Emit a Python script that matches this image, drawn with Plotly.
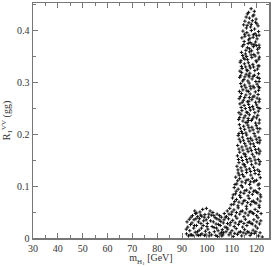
import plotly.graph_objects as go

# Low-mass plateau (m_H1 ~ 91-108 GeV)
low_mass = [91.8, 92.3, 92.0, 93.1, 92.9, 93.4, 91.7,
            93.8, 94.2, 94.7, 95.1, 94.0, 95.3, 94.8, 95.4, 94.4,
            95.8, 96.3, 96.0, 96.9, 97.2, 96.6, 97.4, 95.9, 97.0,
            97.8, 98.3, 98.0, 98.7, 99.2, 99.0, 98.5, 99.4, 97.9,
            99.8, 100.2, 100.6, 101.0, 100.4, 101.3, 99.7, 100.9,
            101.8, 102.1, 102.6, 103.0, 102.4, 103.3, 101.9, 102.9,
            103.7, 104.1, 104.5, 104.9, 105.3, 104.3, 105.1, 103.9, 105.4,
            105.8, 106.2, 106.6, 107.0, 106.4, 107.3, 105.9, 106.9,
            107.7, 108.2, 107.9, 108.3, 96.7, 99.6, 93.3,
            92.6, 93.6, 95.0, 96.2, 97.6, 98.9, 100.0, 101.5, 102.8, 103.6,
            104.7, 105.6, 106.0, 107.4, 108.0, 100.8, 97.5, 95.6, 104.0, 106.7]
low_ratio = [0.008, 0.021, 0.031, 0.014, 0.036, 0.026, 0.017,
             0.006, 0.043, 0.019, 0.052, 0.029, 0.011, 0.035, 0.047, 0.005,
             0.024, 0.041, 0.006, 0.015, 0.050, 0.031, 0.006, 0.048, 0.037,
             0.019, 0.055, 0.008, 0.033, 0.045, 0.005, 0.024, 0.013, 0.042,
             0.057, 0.028, 0.040, 0.010, 0.017, 0.052, 0.035, 0.004,
             0.044, 0.022, 0.031, 0.012, 0.049, 0.039, 0.006, 0.020,
             0.027, 0.046, 0.014, 0.035, 0.008, 0.003, 0.043, 0.019, 0.024,
             0.040, 0.016, 0.029, 0.047, 0.006, 0.021, 0.011, 0.035,
             0.012, 0.052, 0.041, 0.028, 0.005, 0.006, 0.006,
             0.004, 0.040, 0.024, 0.012, 0.028, 0.040, 0.022, 0.033, 0.043, 0.005,
             0.026, 0.032, 0.004, 0.040, 0.020, 0.046, 0.044, 0.037, 0.037, 0.010]

# Steep column (m_H1 ~ 108-122 GeV)
col_mass = [117.8, 119.1, 116.3, 118.5, 117.1, 119.8, 115.8,
            115.3, 116.9, 118.3, 120.1, 117.6, 115.9, 119.2, 120.6, 114.8,
            114.5, 116.1, 117.9, 119.4, 120.8, 115.3, 118.6, 120.2, 116.8, 114.1, 121.0,
            115.0, 117.4, 119.6, 121.0, 114.3, 116.3, 118.7, 120.4, 115.7, 118.0, 119.0,
            113.9, 115.5, 117.2, 118.9, 120.6, 114.8, 116.4, 118.1, 119.8, 121.1, 113.7,
            113.4, 115.1, 116.7, 118.5, 120.0, 121.0, 114.2, 116.0, 117.5, 119.3, 120.4, 113.3,
            114.0, 115.8, 117.3, 119.1, 120.8, 113.2, 114.9, 116.5, 118.2, 119.7, 121.1, 117.0,
            113.6, 115.2, 117.0, 118.6, 120.2, 121.2, 114.5, 116.1, 117.7, 119.5, 113.1, 120.8,
            113.9, 115.7, 117.4, 119.0, 120.6, 113.0, 114.7, 116.3, 118.1, 119.6, 121.2, 117.1,
            113.3, 115.0, 116.8, 118.4, 120.0, 121.3, 114.1, 115.9, 117.5, 119.3, 120.7, 112.9,
            113.7, 115.4, 117.1, 118.9, 120.5, 112.8, 114.5, 116.2, 117.9, 119.6, 121.2, 116.6,
            113.1, 114.8, 116.5, 118.1, 119.9, 121.3, 113.9, 115.7, 117.3, 119.0, 120.6, 112.9,
            112.6, 114.3, 116.0, 117.6, 119.4, 121.0, 113.5, 115.2, 116.9, 118.7, 120.3, 121.4,
            112.4, 114.1, 115.7, 117.4, 119.1, 120.8, 113.2, 114.9, 116.6, 118.3, 120.0, 121.4,
            112.3, 113.9, 115.6, 117.3, 119.0, 120.7, 112.9, 114.6, 116.3, 118.0, 119.7, 121.4,
            112.1, 113.7, 115.4, 117.1, 118.8, 120.5, 112.6, 114.3, 116.0, 117.7, 119.4, 121.2,
            111.6, 113.2, 114.9, 116.6, 118.3, 120.0, 121.5, 112.0, 113.8, 115.5, 117.2, 118.9, 120.6,
            111.0, 112.6, 114.3, 116.0, 117.7, 119.4, 121.1, 111.5, 113.2, 114.9, 116.6, 118.3, 120.0, 121.5,
            110.3, 111.9, 113.6, 115.3, 117.0, 118.7, 120.4, 121.7, 110.8, 112.5, 114.2, 115.9, 117.6, 119.3, 121.0,
            109.2, 110.9, 112.6, 114.3, 116.0, 117.7, 119.4, 121.1, 109.8, 111.5, 113.2, 114.9, 116.6, 118.3, 120.0, 121.8,
            108.7, 110.4, 112.1, 113.8, 115.5, 117.2, 118.9, 120.6, 109.3, 111.0, 112.7, 114.4, 116.1, 117.8, 119.5, 121.2,
            108.4, 110.1, 111.8, 113.5, 115.2, 116.9, 118.6, 120.3, 108.9, 110.6, 112.3, 114.0, 115.7, 117.4, 119.1, 120.8, 122.3]
col_ratio = [0.441, 0.436, 0.431, 0.427, 0.423, 0.421, 0.425,
             0.417, 0.414, 0.418, 0.412, 0.406, 0.404, 0.402, 0.408, 0.410,
             0.398, 0.395, 0.399, 0.393, 0.397, 0.388, 0.386, 0.383, 0.381, 0.385, 0.390,
             0.378, 0.376, 0.377, 0.371, 0.369, 0.366, 0.368, 0.363, 0.361, 0.360, 0.372,
             0.357, 0.354, 0.358, 0.353, 0.356, 0.346, 0.343, 0.347, 0.341, 0.348, 0.341,
             0.338, 0.335, 0.337, 0.334, 0.339, 0.331, 0.326, 0.323, 0.327, 0.322, 0.325, 0.321,
             0.318, 0.315, 0.317, 0.313, 0.316, 0.309, 0.305, 0.302, 0.306, 0.301, 0.307, 0.310,
             0.297, 0.294, 0.298, 0.292, 0.296, 0.289, 0.285, 0.283, 0.287, 0.281, 0.282, 0.284,
             0.278, 0.275, 0.277, 0.273, 0.276, 0.268, 0.265, 0.262, 0.266, 0.261, 0.267, 0.270,
             0.258, 0.255, 0.257, 0.253, 0.256, 0.249, 0.245, 0.242, 0.246, 0.241, 0.244, 0.241,
             0.238, 0.235, 0.237, 0.233, 0.236, 0.228, 0.225, 0.222, 0.226, 0.221, 0.227, 0.230,
             0.218, 0.215, 0.217, 0.213, 0.216, 0.210, 0.205, 0.202, 0.206, 0.201, 0.204, 0.201,
             0.197, 0.194, 0.198, 0.192, 0.196, 0.193, 0.185, 0.182, 0.186, 0.181, 0.184, 0.188,
             0.178, 0.175, 0.177, 0.173, 0.176, 0.171, 0.165, 0.162, 0.166, 0.161, 0.164, 0.167,
             0.158, 0.155, 0.157, 0.153, 0.156, 0.151, 0.145, 0.142, 0.146, 0.141, 0.144, 0.147,
             0.138, 0.135, 0.137, 0.133, 0.136, 0.131, 0.125, 0.122, 0.126, 0.121, 0.124, 0.128,
             0.117, 0.114, 0.118, 0.112, 0.115, 0.111, 0.116, 0.104, 0.101, 0.106, 0.103, 0.108, 0.102,
             0.097, 0.094, 0.098, 0.092, 0.096, 0.091, 0.095, 0.085, 0.082, 0.086, 0.081, 0.084, 0.088, 0.083,
             0.077, 0.074, 0.078, 0.072, 0.076, 0.071, 0.075, 0.079, 0.065, 0.062, 0.066, 0.061, 0.064, 0.068, 0.063,
             0.057, 0.054, 0.058, 0.052, 0.056, 0.051, 0.055, 0.059, 0.045, 0.042, 0.046, 0.041, 0.044, 0.048, 0.043, 0.047,
             0.037, 0.034, 0.038, 0.032, 0.036, 0.031, 0.035, 0.039, 0.025, 0.022, 0.026, 0.021, 0.024, 0.028, 0.023, 0.027,
             0.017, 0.014, 0.018, 0.012, 0.016, 0.011, 0.015, 0.019, 0.006, 0.003, 0.007, 0.004, 0.008, 0.005, 0.009, 0.004, 0.002]

# Additional column points read between the rows above
fill_mass = [116.8, 118.9,
             116.2, 117.9, 119.6,
             115.2, 116.9, 118.7, 120.0, 117.3,
             114.9, 116.6, 118.1, 119.9, 121.1, 117.2,
             114.4, 116.0, 117.8, 119.4, 120.9, 115.3,
             113.9, 115.6, 117.2, 118.8, 120.6, 116.4,
             113.6, 115.3, 116.9, 118.6, 120.3, 114.4, 121.0,
             114.0, 115.7, 117.4, 119.0, 120.7, 116.7,
             113.5, 115.2, 116.9, 118.5, 120.2, 121.0, 114.2,
             113.8, 115.5, 117.2, 118.8, 120.5, 116.4,
             113.2, 114.9, 116.7, 118.3, 120.0, 121.0, 115.7,
             113.5, 115.2, 116.9, 118.6, 120.3, 114.4,
             113.0, 114.7, 116.5, 118.2, 119.9, 121.1, 117.5,
             112.9, 114.5, 116.2, 117.9, 119.6, 121.0, 115.4,
             112.7, 114.3, 116.0, 117.8, 119.4, 121.1, 115.1,
             112.5, 114.1, 115.9, 117.6, 119.2, 120.9, 113.0,
             112.4, 114.1, 115.8, 117.6, 119.3, 121.0, 111.3,
             111.8, 113.6, 115.3, 117.1, 118.8, 120.5, 110.6,
             111.2, 112.9, 114.7, 116.4, 118.1, 119.8, 121.4, 109.8,
             110.1, 111.9, 113.7, 115.4, 117.1, 118.8, 120.5, 108.9,
             109.6, 111.4, 113.2, 114.9, 116.6, 118.3, 120.1, 121.7,
             109.4, 111.2, 112.9, 114.6, 116.3, 118.0, 119.7, 121.4]
fill_ratio = [0.434, 0.429,
              0.409, 0.411, 0.415,
              0.392, 0.390, 0.391, 0.389, 0.384,
              0.372, 0.374, 0.373, 0.370, 0.366, 0.364,
              0.351, 0.349, 0.352, 0.350, 0.344, 0.344,
              0.330, 0.329, 0.331, 0.329, 0.331, 0.322,
              0.312, 0.310, 0.313, 0.311, 0.309, 0.302, 0.301,
              0.291, 0.289, 0.292, 0.289, 0.291, 0.282,
              0.272, 0.270, 0.263, 0.271, 0.269, 0.262, 0.261,
              0.251, 0.249, 0.251, 0.248, 0.251, 0.241,
              0.232, 0.231, 0.226, 0.229, 0.231, 0.221, 0.222,
              0.211, 0.209, 0.212, 0.208, 0.211, 0.201,
              0.190, 0.188, 0.191, 0.188, 0.190, 0.183, 0.181,
              0.171, 0.169, 0.171, 0.168, 0.170, 0.162, 0.161,
              0.151, 0.149, 0.151, 0.148, 0.150, 0.142, 0.141,
              0.131, 0.129, 0.131, 0.128, 0.130, 0.122, 0.121,
              0.110, 0.108, 0.111, 0.108, 0.110, 0.104, 0.103,
              0.090, 0.088, 0.091, 0.088, 0.090, 0.087, 0.083,
              0.070, 0.069, 0.071, 0.068, 0.070, 0.067, 0.071, 0.064,
              0.050, 0.049, 0.051, 0.048, 0.050, 0.047, 0.051, 0.046,
              0.030, 0.029, 0.031, 0.028, 0.030, 0.027, 0.031, 0.033,
              0.010, 0.009, 0.011, 0.010, 0.012, 0.009, 0.012, 0.010]

x_ticks = [30, 40, 50, 60, 70, 80, 90, 100, 110, 120]
y_ticks = [0, 0.1, 0.2, 0.3, 0.4]
y_tick_labels = ["0", "0.1", "0.2", "0.3", "0.4"]

marker = dict(symbol="cross-thin", size=2.4, line=dict(width=1, color="#111"), color="#111")

fig = go.Figure()
for xs, ys in [(low_mass, low_ratio), (col_mass, col_ratio), (fill_mass, fill_ratio)]:
    fig.add_trace(go.Scatter(x=xs, y=ys, mode="markers", marker=marker,
                             showlegend=False, hoverinfo="skip"))

font_family = "Liberation Serif, Times New Roman, serif"
axis_common = dict(
    showline=True, linecolor="#777", linewidth=1.5, mirror="ticks",
    ticks="inside", tickcolor="#777", tickwidth=1, ticklen=5,
    showgrid=False, zeroline=False,
    tickfont=dict(family=font_family, size=10, color="#333"),
)

fig.update_layout(
    width=272, height=266,
    margin=dict(l=33, r=2, t=1, b=28),
    paper_bgcolor="white", plot_bgcolor="white",
    font=dict(family=font_family, size=10, color="#333"),
    xaxis=dict(range=[30, 125], tickvals=x_ticks, ticktext=[str(v) for v in x_ticks],
               minor=dict(dtick=5, ticklen=3, tickcolor="#777", ticks="inside"),
               title=dict(text="m<sub>H<sub>1</sub></sub> [GeV]", standoff=0,
                          font=dict(family=font_family, size=10, color="#333")),
               **axis_common),
    yaxis=dict(range=[0, 0.452], tickvals=y_ticks, ticktext=y_tick_labels,
               minor=dict(dtick=0.05, ticklen=3, tickcolor="#777", ticks="inside"),
               title=dict(text="R<sub>1</sub><sup>VV</sup> (gg)", standoff=4,
                          font=dict(family=font_family, size=10, color="#333")),
               **axis_common),
)

fig.write_html("out.html", config={"displayModeBar": False, "staticPlot": True},
               post_script="document.body.style.margin='0';")
